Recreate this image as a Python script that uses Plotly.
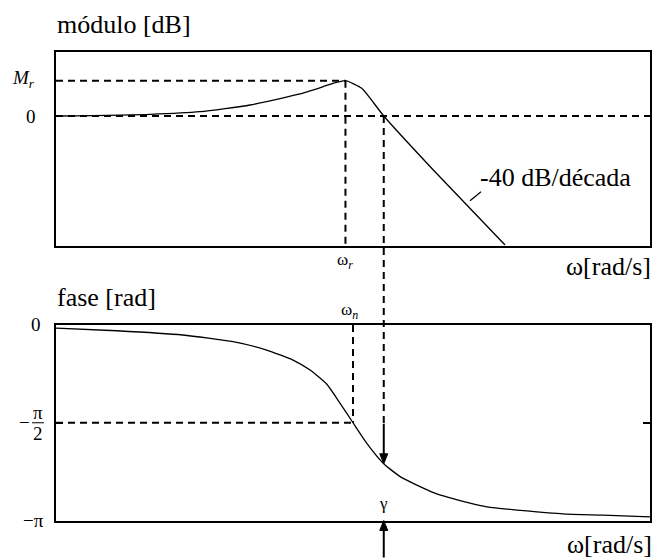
import math
import plotly.graph_objects as go

# Bode diagram of an under-damped second-order system (log frequency axis)
# Magnitude [dB] readings
w_mag = [0.0316, 0.0944, 0.169, 0.302, 0.540, 0.706, 0.793, 0.916, 1.107, 1.43, 2.545, 5.86]
mag_db = [0.0, 0.32, 0.81, 2.07, 4.14, 5.51, 6.15, 6.64, 5.21, 0.0, -10.15, -24.25]

# Phase [rad] readings
w_phase = [0.0316, 0.0641, 0.138, 0.248, 0.366, 0.498, 0.607, 0.736, 0.859, 1.0,
           1.172, 1.43, 1.746, 2.59, 3.90, 4.75, 6.73, 8.49, 12.05, 18.3, 31.6]
phase_rad = [-0.05, -0.092, -0.161, -0.268, -0.402, -0.563, -0.723, -0.949, -1.254, -1.571,
             -1.897, -2.23, -2.444, -2.701, -2.862, -2.921, -2.974, -3.002, -3.039, -3.055, -3.082]

# Characteristic points
w_r, M_r = 0.916, 6.64        # resonance
w_n = 1.0                     # natural frequency
w_c, phase_c = 1.43, -2.23    # 0 dB crossover and phase there

X_RANGE = [-1.5, 1.5]                  # log10(w)
Y1_RANGE = [-24.34, 12.03]             # dB
Y2_RANGE = [-math.pi, 0.0]             # rad
W_MIN, W_MAX = 10 ** X_RANGE[0], 10 ** X_RANGE[1]

W, H = 655, 560
X_DOM = [56 / W, 650 / W]
Y1_DOM = [(H - 245.5) / H, (H - 52) / H]
Y2_DOM = [(H - 520.5) / H, (H - 325) / H]

FONT = "Liberation Serif, Times New Roman, Times, serif"
INK = "black"


def to_paper(v, rng, dom):
    return dom[0] + (v - rng[0]) / (rng[1] - rng[0]) * (dom[1] - dom[0])


fig = go.Figure()
fig.add_trace(go.Scatter(x=w_mag, y=mag_db, mode="lines", xaxis="x", yaxis="y",
                         line=dict(color=INK, width=1.3, shape="spline", smoothing=0.5),
                         showlegend=False))
fig.add_trace(go.Scatter(x=w_phase, y=phase_rad, mode="lines", xaxis="x2", yaxis="y2",
                         line=dict(color=INK, width=1.3, shape="spline", smoothing=0.5),
                         showlegend=False))

dash = dict(color=INK, width=2, dash="7px,5px")
solid = dict(color=INK, width=2)

# crossover position in paper units
xc = to_paper(math.log10(w_c), X_RANGE, X_DOM)
y_tip_down = to_paper(phase_c, Y2_RANGE, Y2_DOM)
y_tip_up = to_paper(Y2_RANGE[0], Y2_RANGE, Y2_DOM)
hw, hh = 4 / W, 10 / H

shapes = [
    # magnitude guides
    dict(type="line", xref="x", yref="y", x0=W_MIN, x1=w_r, y0=M_r, y1=M_r, line=dash),
    dict(type="line", xref="x", yref="y", x0=W_MIN, x1=W_MAX, y0=0, y1=0, line=dash),
    dict(type="line", xref="x", yref="y", x0=w_r, x1=w_r, y0=M_r, y1=Y1_RANGE[0], line=dash),
    # phase guides
    dict(type="line", xref="x2", yref="y2", x0=W_MIN, x1=w_n, y0=-math.pi / 2, y1=-math.pi / 2, line=dash),
    dict(type="line", xref="x2", yref="y2", x0=w_n, x1=w_n, y0=0, y1=-math.pi / 2, line=dash),
    # crossover line running from the magnitude plot down to the phase plot
    dict(type="line", xref="x", yref="paper", x0=w_c, x1=w_c,
         y0=to_paper(0, Y1_RANGE, Y1_DOM), y1=y_tip_down + 40 / H, line=dash),
    # arrow onto the phase curve
    dict(type="line", xref="paper", yref="paper", x0=xc, x1=xc,
         y0=y_tip_down + 40 / H, y1=y_tip_down + hh * 0.6, line=solid),
    dict(type="path", xref="paper", yref="paper",
         path=f"M {xc - hw},{y_tip_down + hh} L {xc + hw},{y_tip_down + hh} L {xc},{y_tip_down} Z",
         fillcolor=INK, line=dict(color=INK, width=1)),
    # arrow up to -pi (phase margin)
    dict(type="line", xref="paper", yref="paper", x0=xc, x1=xc,
         y0=y_tip_up - 37 / H, y1=y_tip_up - hh * 0.6, line=solid),
    dict(type="path", xref="paper", yref="paper",
         path=f"M {xc - hw},{y_tip_up - hh} L {xc + hw},{y_tip_up - hh} L {xc},{y_tip_up} Z",
         fillcolor=INK, line=dict(color=INK, width=1)),
    # leader for the slope label
    dict(type="line", xref="paper", yref="paper", x0=470 / W, y0=(H - 200.7) / H,
         x1=481 / W, y1=(H - 191.7) / H, line=dict(color=INK, width=1.2)),
    # fraction bar of -pi/2
    dict(type="line", xref="paper", yref="y2", x0=32 / W, x1=44 / W,
         y0=-math.pi / 2, y1=-math.pi / 2, line=dict(color=INK, width=1.2)),
]

tf = dict(family=FONT, size=19, color=INK)
big = dict(family=FONT, size=26, color=INK)
small = dict(family=FONT, size=17, color=INK)
lx = math.log10
ann = [
    # panel titles and axis names
    dict(text="módulo [dB]", xref="paper", yref="paper", x=55 / W, y=(H - 25) / H,
         xanchor="left", yanchor="middle", font=big),
    dict(text="fase [rad]", xref="paper", yref="paper", x=55 / W, y=(H - 297) / H,
         xanchor="left", yanchor="middle", font=big),
    dict(text="ω[rad/s]", xref="paper", yref="paper", x=653 / W, y=(H - 266) / H,
         xanchor="right", yanchor="middle", font=big),
    dict(text="ω[rad/s]", xref="paper", yref="paper", x=653 / W, y=0,
         xanchor="right", yanchor="bottom", borderpad=0, font=big),
    dict(text="-40 dB/década", xref="paper", yref="paper", x=478 / W, y=(H - 177) / H,
         xanchor="left", yanchor="middle", font=big),
    # magnitude axis labels
    dict(text="0", xref="paper", yref="y", x=38 / W, y=0, xanchor="right", yanchor="middle", font=tf),
    dict(text="<i>M</i><sub><i>r</i></sub>", xref="paper", yref="y", x=37 / W, y=M_r,
         xanchor="right", yanchor="middle", yshift=2, font=tf),
    # phase axis labels
    dict(text="0", xref="paper", yref="y2", x=43 / W, y=0, xanchor="right", yanchor="middle", font=tf),
    dict(text="−π", xref="paper", yref="y2", x=46 / W, y=-math.pi, xanchor="right", yanchor="middle", font=tf),
    dict(text="−", xref="paper", yref="y2", x=24 / W, y=-math.pi / 2, xanchor="center", yanchor="middle", font=tf),
    dict(text="π", xref="paper", yref="y2", x=38 / W, y=-math.pi / 2, yshift=10,
         xanchor="center", yanchor="middle", font=tf),
    dict(text="2", xref="paper", yref="y2", x=38 / W, y=-math.pi / 2, yshift=-11,
         xanchor="center", yanchor="middle", font=tf),
    # frequency markers
    dict(text="ω<sub><i>r</i></sub>", xref="x", yref="paper", x=lx(w_r), y=(H - 261) / H,
         xanchor="center", yanchor="middle", font=small),
    dict(text="ω<sub><i>n</i></sub>", xref="x2", yref="paper", x=lx(w_n), xshift=-4, y=(H - 311) / H,
         xanchor="center", yanchor="middle", font=small),
    dict(text="γ", xref="x2", yref="y2", x=lx(w_c), y=-math.pi, yshift=17,
         xanchor="center", yanchor="middle", font=small),
]
for a in ann:
    a["showarrow"] = False

box = dict(showline=True, linecolor=INK, linewidth=2, mirror=True, showgrid=False,
           zeroline=False, ticks="", showticklabels=False)

fig.update_layout(
    width=W, height=H,
    margin=dict(l=0, r=0, t=0, b=0),
    paper_bgcolor="white", plot_bgcolor="white",
    showlegend=False,
    font=dict(family=FONT, color=INK),
    xaxis=dict(type="log", range=X_RANGE, domain=X_DOM, anchor="y", **box),
    yaxis=dict(range=Y1_RANGE, domain=Y1_DOM, anchor="x", **box),
    xaxis2=dict(type="log", range=X_RANGE, domain=X_DOM, anchor="y2", **box),
    yaxis2=dict(range=Y2_RANGE, domain=Y2_DOM, anchor="x2",
                **{**box, "mirror": "ticks", "ticks": "inside", "ticklen": 7,
                   "tickwidth": 2, "tickcolor": INK,
                   "tickvals": [-math.pi / 2]}),
    shapes=shapes,
    annotations=ann,
)

fig.write_html("out.html")
